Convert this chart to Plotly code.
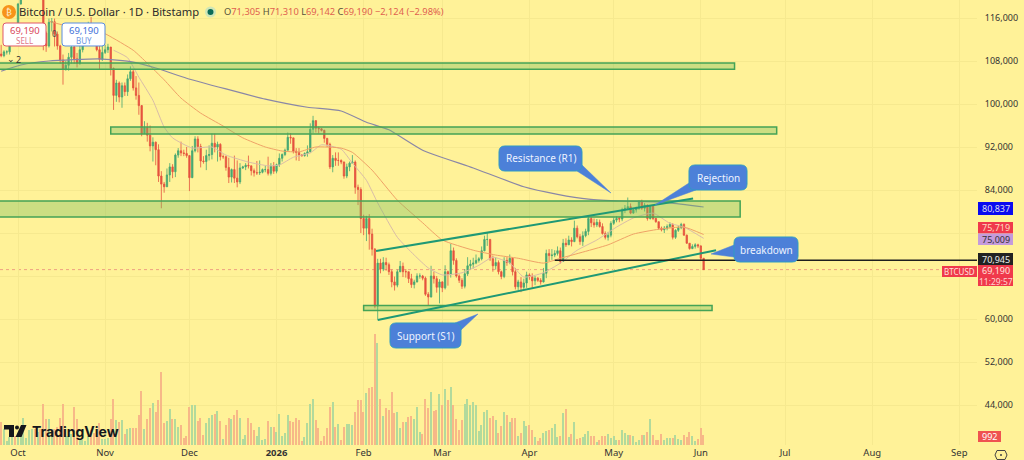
import pandas as pd
import plotly.graph_objects as go

start_date = "2025-09-25"
first_open = 109.3
closes = [
 109.0,109.7,109.7,112.1,114.4,114.1,
 118.6,120.5,122.2,122.4,123.5,124.7,121.4,123.3,121.7,113.2,110.8,115.2,115.3,113.0,110.8,108.2,106.5,107.2,108.7,110.6,108.4,107.6,110.1,111.0,111.6,114.5,114.1,112.9,110.1,108.3,109.6,
 110.1,110.6,106.6,101.6,103.9,101.3,103.4,102.3,104.7,106.0,103.0,101.6,99.7,94.5,95.6,94.2,92.2,92.9,91.5,86.6,85.1,84.6,86.8,88.3,87.4,90.5,91.3,90.9,90.8,90.4,
 86.3,91.3,93.5,92.1,89.4,89.3,90.4,90.6,92.7,92.0,92.5,90.2,90.2,88.2,86.4,87.8,86.2,85.5,88.1,88.3,88.6,88.5,87.6,87.2,87.2,87.3,87.8,87.8,87.1,88.4,87.5,
 88.7,89.9,90.6,91.4,93.8,93.7,91.2,91.0,90.5,90.4,90.8,91.1,95.3,96.9,95.5,95.4,95.1,93.6,92.5,88.3,89.9,89.5,89.5,89.2,86.6,88.3,89.0,89.2,84.5,84.1,78.7,
 76.9,78.7,75.8,73.0,62.4,70.4,69.3,70.5,70.1,68.8,66.9,66.3,68.8,69.8,68.8,68.8,67.5,66.4,66.9,68.0,68.0,67.6,64.6,64.1,68.0,67.5,65.9,66.9,
 65.8,68.8,68.3,72.7,70.9,68.0,67.2,66.1,68.4,69.9,70.2,70.4,70.9,71.2,72.7,74.8,74.8,71.2,69.9,70.5,68.8,67.9,70.9,70.5,71.3,68.8,66.0,66.9,65.9,66.7,68.2,
 67.9,67.1,67.6,67.2,66.9,68.5,72.2,71.8,71.9,72.2,72.7,70.7,74.1,73.8,74.7,74.4,76.9,75.3,74.4,75.5,76.3,78.7,77.9,77.5,78.0,77.2,75.9,75.2,75.6,77.8,
 78.4,78.7,78.6,80.3,80.6,80.9,79.7,80.3,80.6,81.8,80.6,81.2,78.7,81.0,78.7,78.1,76.9,76.6,76.9,77.2,77.6,75.2,76.5,77.0,77.6,75.6,74.1,73.1,73.5,73.8,73.6,
 71.305,69.19]
highs = [
 111.0,110.0,110.0,112.3,114.6,114.8,
 118.8,121.0,123.0,122.9,125.5,126.2,125.0,124.2,123.8,122.5,113.5,115.9,116.0,115.9,113.5,111.0,109.2,108.0,109.5,111.5,113.8,109.5,111.2,112.0,111.9,115.3,116.2,114.9,113.5,111.5,111.0,
 111.0,111.2,110.6,106.8,104.5,104.2,104.0,104.0,105.5,107.0,106.5,105.2,104.0,99.8,96.8,96.5,96.0,93.8,93.0,92.5,87.5,85.5,88.0,89.0,88.8,90.8,91.8,93.0,91.5,92.0,
 90.4,92.2,94.0,94.0,92.6,90.3,91.5,92.3,94.5,94.5,93.0,92.7,90.6,90.4,90.0,88.0,90.4,89.5,89.0,88.5,89.0,90.4,88.0,88.0,89.4,89.5,88.0,88.5,90.2,89.0,89.2,
 88.9,90.8,90.8,91.7,94.7,94.6,93.7,91.8,91.8,90.7,91.0,92.3,96.4,97.8,97.0,95.8,95.5,95.2,93.7,92.8,90.5,91.0,91.0,89.7,89.3,88.9,89.3,90.5,89.5,85.0,84.5,
 79.4,79.2,79.5,76.8,73.2,71.2,71.2,71.5,71.4,70.5,69.2,67.9,69.2,70.8,70.5,69.3,68.7,68.4,67.3,68.5,68.5,68.2,67.9,65.0,69.9,68.8,68.0,67.4,
 67.0,70.0,69.0,74.0,73.3,71.3,68.3,67.6,69.3,71.5,71.0,71.4,72.0,71.5,73.5,75.5,76.0,74.9,71.8,71.5,70.9,69.0,71.5,71.5,72.0,71.5,69.5,67.3,67.8,67.5,68.8,
 68.5,68.5,68.0,67.8,67.6,69.5,72.9,73.0,73.0,72.8,73.5,73.3,74.9,75.0,75.5,75.2,78.3,77.4,75.8,76.3,76.8,79.2,79.0,78.7,78.6,78.5,77.8,76.3,76.2,78.2,
 78.9,79.1,79.0,80.7,81.2,82.6,81.5,80.6,80.9,82.1,82.2,81.6,81.3,81.2,81.2,78.8,78.0,77.2,77.3,77.6,78.0,77.8,76.7,77.3,77.9,77.8,75.7,74.1,73.9,74.1,74.0,
 73.7,71.31]
lows = [
 108.7,108.7,109.2,109.2,111.6,112.8,
 113.9,118.5,119.5,121.6,122.0,123.0,120.6,121.0,119.8,110.0,109.7,110.5,113.5,110.7,110.1,107.5,103.6,106.2,106.2,107.5,107.5,106.8,107.3,109.6,110.9,111.3,113.6,112.0,109.8,106.4,108.0,
 109.3,109.5,105.3,98.9,100.4,100.3,99.3,101.5,101.5,104.3,102.5,100.8,98.0,94.0,94.6,93.0,91.2,89.3,88.6,85.5,80.6,83.5,84.7,85.5,86.2,86.4,90.0,90.3,90.3,90.0,
 83.8,86.2,91.0,91.0,88.2,88.9,87.7,89.5,89.7,91.0,89.3,89.5,89.8,87.6,85.3,85.4,85.3,84.5,85.1,87.9,87.7,88.0,86.7,86.5,86.8,86.8,87.1,87.3,86.7,86.7,87.0,
 87.1,88.3,89.3,90.3,91.5,92.6,90.8,89.5,89.4,90.2,90.2,90.2,91.0,94.6,94.7,94.5,94.9,92.8,92.0,87.9,87.3,88.5,88.5,88.8,86.1,86.2,87.5,88.9,83.3,81.2,76.0,
 75.6,74.5,72.9,71.8,62.0,59.9,68.5,68.9,69.0,68.2,65.9,65.3,65.9,68.7,67.8,67.7,66.7,65.8,65.7,66.8,67.5,67.2,64.3,62.6,64.0,66.6,64.9,62.9,
 65.0,65.5,66.2,67.7,70.1,67.7,66.7,65.6,65.7,68.0,69.2,69.4,70.2,70.5,70.9,72.6,73.6,70.8,68.8,69.2,68.3,67.4,67.6,69.9,70.2,68.1,65.5,65.4,65.0,65.6,65.8,
 67.3,65.8,66.3,66.9,66.4,66.8,67.6,70.8,71.0,71.5,71.8,70.3,70.6,73.4,73.9,73.5,74.3,75.0,73.8,73.6,75.2,75.6,77.1,77.0,77.1,77.0,75.7,74.8,74.6,75.2,
 77.5,78.0,78.0,78.2,79.7,80.3,79.5,79.6,79.8,80.3,80.3,80.0,78.3,78.5,78.4,77.9,76.6,76.3,76.0,76.5,76.9,74.8,74.9,76.2,76.7,75.5,74.0,72.9,73.0,73.1,73.2,
 70.9,69.142]
volumes = [
 2300,1600,400,800,800,900,
 900,900,2700,700,1500,1600,1600,1300,1600,4100,2600,2600,1600,1600,1800,2700,4100,900,900,1100,3800,2600,600,500,400,900,1500,1200,900,2200,600,
 600,700,2600,4600,2500,2300,2500,1100,1600,1700,1700,1700,3000,5400,1600,2600,3700,4200,3300,4500,7300,2200,2400,3600,2600,2600,1800,2000,700,900,
 3800,4000,4000,2400,2700,1000,2200,2700,3000,3100,3400,2400,600,2000,2700,2600,3000,3500,2700,600,1000,2700,2200,1500,900,1800,500,600,2400,1800,1800,
 1300,3100,900,1200,3000,2400,2300,2700,2500,400,800,2200,4100,4600,2500,1700,400,900,1700,3800,4300,1800,2100,500,1800,2100,2100,2000,3300,4500,4500,
 3300,5200,5700,5800,11100,10200,4600,2900,3700,3500,5300,3200,3300,1700,2300,2300,2800,2900,2600,3800,1300,1100,4600,3700,5300,3400,3500,5100,
 4000,5600,4500,5800,4000,2600,1500,2500,4100,4600,4000,4300,4000,1400,2000,3300,3500,2700,2900,2500,1200,1900,3300,3000,2300,2700,2700,900,1200,2400,1900,
 2000,1500,800,400,700,1200,1400,1500,1700,2100,800,900,3200,3600,800,1100,2300,600,700,800,1100,1400,900,900,300,500,900,900,1100,700,
 900,500,500,1500,1200,1000,1000,900,300,500,1000,1000,1300,2600,1000,500,500,1100,500,700,700,700,1000,600,500,1000,800,1300,900,400,600,
 1700,992]

ma200_dates = ["2025-09-25","2025-10-02","2025-10-12","2025-10-30","2025-11-11","2025-11-19","2025-11-30","2025-12-14","2025-12-28","2026-01-12","2026-01-24","2026-02-02","2026-02-10","2026-02-22","2026-03-12","2026-03-30","2026-04-11","2026-04-22","2026-05-04","2026-05-16","2026-05-21","2026-06-02"]
ma200_vals = [106.1,107.25,108.0,108.4,107.8,106.7,104.8,102.8,100.9,99.4,98.7,96.6,95.2,91.4,88.1,84.6,83.2,82.3,81.95,81.8,81.6,80.837]
ma50_dates = ["2025-10-12","2025-10-17","2025-10-29","2025-11-02","2025-11-11","2025-11-16","2025-11-22","2025-11-28","2025-12-05","2025-12-13","2025-12-20","2025-12-28","2026-01-03","2026-01-09","2026-01-15","2026-01-24","2026-01-28","2026-02-04","2026-02-13","2026-02-22","2026-03-01","2026-03-12","2026-03-20","2026-03-28","2026-04-06","2026-04-12","2026-04-19","2026-04-29","2026-05-08","2026-05-17","2026-05-26","2026-06-02"]
ma50_vals = [115.4,114.7,113.8,112.8,110.0,107.6,104.5,101.1,98.3,95.9,93.7,92.0,91.25,91.1,92.0,91.8,91.0,87.7,82.1,77.9,74.7,72.8,71.9,71.3,70.4,71.3,72.3,73.8,75.8,76.7,77.1,75.719]
ma20_dates = ["2025-11-04","2025-11-09","2025-11-13","2025-11-18","2025-11-22","2025-11-25","2025-12-02","2025-12-09","2025-12-14","2025-12-22","2025-12-29","2026-01-02","2026-01-07","2026-01-13","2026-01-17","2026-01-24","2026-01-28","2026-02-02","2026-02-06","2026-02-13","2026-02-19","2026-02-24","2026-03-01","2026-03-08","2026-03-14","2026-03-19","2026-03-25","2026-03-30","2026-04-06","2026-04-12","2026-04-18","2026-04-25","2026-05-02","2026-05-08","2026-05-15","2026-05-21","2026-05-26","2026-06-02"]
ma20_vals = [110.0,108.6,105.0,100.7,95.7,93.7,91.8,92.0,90.5,89.2,88.5,88.65,90.1,90.9,92.4,91.6,89.0,85.8,81.6,75.2,71.9,69.5,68.2,68.6,70.0,71.5,70.4,67.8,68.6,70.4,72.8,74.7,77.1,78.8,79.7,77.8,77.1,75.009]

price_ticks = [116000,108000,100000,92000,84000,76000,68000,60000,52000,44000]
price_labels = ["116,000","108,000","100,000","92,000","84,000","","","60,000","52,000","44,000"]
month_ticks = ["2025-10-01","2025-11-01","2025-12-01","2026-01-01","2026-02-01","2026-03-01","2026-04-01","2026-05-01","2026-06-01","2026-07-01","2026-08-01","2026-09-01"]
month_labels = ["Oct","Nov","Dec","<b>2026</b>","Feb","Mar","Apr","May","Jun","Jul","Aug","Sep"]

zones = [  # start, end, bottom, top
 ("2025-09-20","2026-06-13",106450,107650),
 ("2025-11-03","2026-06-28",94420,95720),
 ("2025-09-20","2026-06-15",78975,81950),
 ("2026-02-01","2026-06-05",61580,62510),
]
trendlines = [
 ("2026-02-05 10:00",72650,"2026-05-29 06:00",82400),
 ("2026-02-06 00:00",59800,"2026-06-06 10:00",72800),
]
level_start, level_end, level_price = "2026-04-10","2026-09-08",70945
last_price = 69190
x_range = ["2025-09-24 14:00","2026-09-07 07:00"]
y_range = [36560,119349]
vol_range = [0,44500]

BG = "#FFF298"
W, H, R, B = 1024, 460, 47, 15
PW, PH = W-R, H-B
def fx(px): return px/PW
def fy(py): return (PH-py)/PH

dates = pd.date_range(start_date, periods=len(closes), freq="D")
assert len(closes)==len(highs)==len(lows)==len(volumes)
opens = [first_open]+closes[:-1]
up = [c>=o for c,o in zip(closes,opens)]
o_usd=[v*1000 for v in opens]; c_usd=[v*1000 for v in closes]
h_usd=[max(v,a,b)*1000 for v,a,b in zip(highs,opens,closes)]
l_usd=[min(v,a,b)*1000 for v,a,b in zip(lows,opens,closes)]

fig = go.Figure()
fig.add_trace(go.Bar(x=dates,y=volumes,yaxis="y",width=0.5*86400000,
    marker=dict(color=["#B2DA9C" if u else "#F7B888" for u in up],line_width=0),showlegend=False))
for dd,vv,col,wd in [(ma20_dates,ma20_vals,"#D9BCA8",1),(ma50_dates,ma50_vals,"#EFA267",1),(ma200_dates,ma200_vals,"#8A87A6",1.2)]:
    fig.add_trace(go.Scatter(x=dd,y=[v*1000 for v in vv],yaxis="y2",mode="lines",line=dict(color=col,width=wd,shape="spline",smoothing=0.5),showlegend=False))
fig.add_trace(go.Candlestick(x=dates,open=o_usd,high=h_usd,low=l_usd,close=c_usd,yaxis="y2",whiskerwidth=0,
    increasing=dict(line=dict(color="#45A772",width=0.8),fillcolor="#45A772"),
    decreasing=dict(line=dict(color="#E5533F",width=0.8),fillcolor="#E5533F"),showlegend=False))

shapes=[]
for x0,x1,y0,y1 in zones:
    shapes.append(dict(type="rect",xref="x",yref="y2",x0=x0,x1=x1,y0=y0,y1=y1,fillcolor="rgba(120,190,95,0.38)",line=dict(color="#44A356",width=1.5)))
for x0,y0,x1,y1 in trendlines:
    shapes.append(dict(type="line",xref="x",yref="y2",x0=x0,y0=y0,x1=x1,y1=y1,line=dict(color="#1F9975",width=2)))
shapes.append(dict(type="line",xref="x",yref="y2",x0=level_start,x1=level_end,y0=level_price,y1=level_price,line=dict(color="#1e1e1e",width=1.5)))
shapes.append(dict(type="line",xref="paper",yref="y2",x0=0,x1=1,y0=last_price,y1=last_price,layer="below",line=dict(color="#EFA080",width=1,dash="dot")))

def path(pts):
    return "M"+" L".join(f"{fx(a):.5f},{fy(b):.5f}" for a,b in pts)+" Z"
def rounded(x0,y0,x1,y1,r=6):
    def P(a,b): return f"{fx(a):.5f},{fy(b):.5f}"
    return (f"M{P(x0+r,y0)} L{P(x1-r,y0)} Q{P(x1,y0)} {P(x1,y0+r)} L{P(x1,y1-r)} Q{P(x1,y1)} {P(x1-r,y1)} "
            f"L{P(x0+r,y1)} Q{P(x0,y1)} {P(x0,y1-r)} L{P(x0,y0+r)} Q{P(x0,y0)} {P(x0+r,y0)} Z")
ann=[]
def T(px,py,text,size=10,color="#333",anchor="center",bold=False,fam="Noto Sans"):
    ann.append(dict(xref="paper",yref="paper",x=fx(px),y=fy(py),text=f"<b>{text}</b>" if bold else text,showarrow=False,
        xanchor=anchor,yanchor="middle",font=dict(size=size,color=color,family=fam),borderpad=0))
CALL="#4C80D8"; EDGE="#2E9BC4"
callouts=[
 (499,146,582,171,[(582,165),(611,193),(577,171)],"Resistance (R1)"),
 (689,165,747,190,[(689,183),(655,205),(696,190)],"Rejection"),
 (734,237,798,262,[(734,257),(711,254),(734,245)],"breakdown"),
 (390,323,461,348,[(461,330),(478,314),(455,323)],"Support (S1)"),
]
for x0,y0,x1,y1,t,txt in callouts:
    shapes.append(dict(type="path",xref="paper",yref="paper",path=path(t),fillcolor=CALL,line=dict(color=CALL,width=0.5)))
    shapes.append(dict(type="path",xref="paper",yref="paper",path=rounded(x0,y0,x1,y1),fillcolor=CALL,line=dict(color=EDGE,width=1)))
    T((x0+x1)/2,(y0+y1)/2,txt,size=10,color="#EEF3FF")

def box(x0,y0,x1,y1,fill,line=None,lw=1):
    shapes.append(dict(type="rect",xref="paper",yref="paper",x0=fx(x0),x1=fx(x1),y0=fy(y1),y1=fy(y0),fillcolor=fill,line=dict(color=line or fill,width=lw if line else 0)))
TAG=9
box(978,202,1013,215,"#0A0AF0"); T(996,208.5,"80,837",TAG,"#DDE")
box(978,222,1013,233.5,"#F0394B"); T(996,227.8,"75,719",TAG,"#FFD9C0")
box(978,233.5,1013,245,"#C49BDC"); T(996,239.3,"75,009",TAG,"#333")
box(978,253,1013,265,"#222222"); T(996,259,"70,945",TAG,"#EEE")
box(978,265,1013,286,"#F0394B"); T(996,270.5,"69,190",TAG,"#FFE3DC"); T(996,281,"11:29:57",8.5,"#FFD6D0")
box(942,266,977,277,"#F0394B"); T(959.5,271.5,"BTCUSD",8,"#FFE3DC")
box(978,431,1001,442,"#EF5350"); T(990,436.5,"992",9,"#FFF")
shapes.append(dict(type="circle",xref="paper",yref="paper",x0=fx(2),x1=fx(16),y0=fy(19),y1=fy(5),fillcolor="#F7931A",line_width=0))
T(9,12,"₿",8.5,"#FFF3D6",fam="DejaVu Sans")
T(18,11.5,"Bitcoin / U.S. Dollar · 1D · Bitstamp",11.2,"#2B2B2B","left")
shapes.append(dict(type="circle",xref="paper",yref="paper",x0=fx(205),x1=fx(216),y0=fy(17.5),y1=fy(6.5),fillcolor="#CFE6B8",line_width=0))
shapes.append(dict(type="circle",xref="paper",yref="paper",x0=fx(207.5),x1=fx(213.5),y0=fy(15),y1=fy(9),fillcolor="#0B6B58",line_width=0))
V="#E0604F"; L="#55503A"
T(223,11.5,f"<span style='color:{L}'>O</span>71,305 <span style='color:{L}'>H</span>71,310 <span style='color:{L}'>L</span>69,142 <span style='color:{L}'>C</span>69,190 −2,124 (−2.98%)",9.3,V,"left")
shapes.append(dict(type="path",xref="paper",yref="paper",path=rounded(3,23,46,46,3),fillcolor="#FFFFFF",line=dict(color="#E0586A",width=1)))
shapes.append(dict(type="path",xref="paper",yref="paper",path=rounded(62,23,105,46,3),fillcolor="#FFFFFF",line=dict(color="#5B8DE0",width=1)))
T(24.5,30,"69,190",9.5,"#D9465A"); T(24.5,40,"SELL",8,"#E0788A")
T(83.5,30,"69,190",9.5,"#3E6FD8"); T(83.5,40,"BUY",8,"#6D94E0")
T(54,34,"0",8,"#444")
T(11,59,"⌄",9,"#333",fam="DejaVu Sans"); T(18.5,59,"2",9,"#333")
K="#15171C"
shapes.append(dict(type="path",xref="paper",yref="paper",path=path([(4,425),(14,425),(14,437),(9,437),(9,429.5),(4,429.5)]),fillcolor=K,line_width=0))
shapes.append(dict(type="circle",xref="paper",yref="paper",x0=fx(15),x1=fx(19),y0=fy(429.5),y1=fy(425.5),fillcolor=K,line_width=0))
shapes.append(dict(type="path",xref="paper",yref="paper",path=path([(21,425),(26.5,425),(21.5,437),(15.5,437)]),fillcolor=K,line_width=0))
T(31,431,"TradingView",14,K,"left",bold=True,fam="Inter")
shapes.append(dict(type="path",xref="paper",yref="paper",path=path([(997,450.5),(1005,450.5),(1007,455),(1005,459.5),(997,459.5),(995,455)]),fillcolor="rgba(0,0,0,0)",line=dict(color="#444",width=1)))
shapes.append(dict(type="circle",xref="paper",yref="paper",x0=fx(1000),x1=fx(1002),y0=fy(456),y1=fy(454),fillcolor="#444",line_width=0))

GRID="#F6E98F"
fig.update_layout(width=W,height=H,margin=dict(l=0,r=R,t=0,b=B,pad=0,autoexpand=False),paper_bgcolor=BG,plot_bgcolor=BG,showlegend=False,
    font=dict(family="Noto Sans",size=10,color="#333"),shapes=shapes,annotations=ann,bargap=0,
    xaxis=dict(type="date",automargin=False,range=x_range,tickmode="array",tickvals=month_ticks,ticktext=month_labels,showgrid=True,gridcolor=GRID,gridwidth=1,
        showline=False,zeroline=False,ticks="",ticklen=0,rangeslider=dict(visible=False),tickfont=dict(size=9.5,color="#333")),
    yaxis=dict(automargin=False,range=vol_range,visible=False,showgrid=False,zeroline=False),
    yaxis2=dict(automargin=False,overlaying="y",side="right",range=y_range,tickmode="array",tickvals=price_ticks,ticktext=price_labels,showgrid=True,gridcolor=GRID,gridwidth=1,
        showline=False,zeroline=False,ticks="outside",ticklen=5,tickcolor="rgba(0,0,0,0)",tickfont=dict(size=9,color="#333")))
fig.write_html("out.html",config={"displayModeBar":False},post_script="document.body.style.margin='0';document.body.style.background='#FFF298';")
